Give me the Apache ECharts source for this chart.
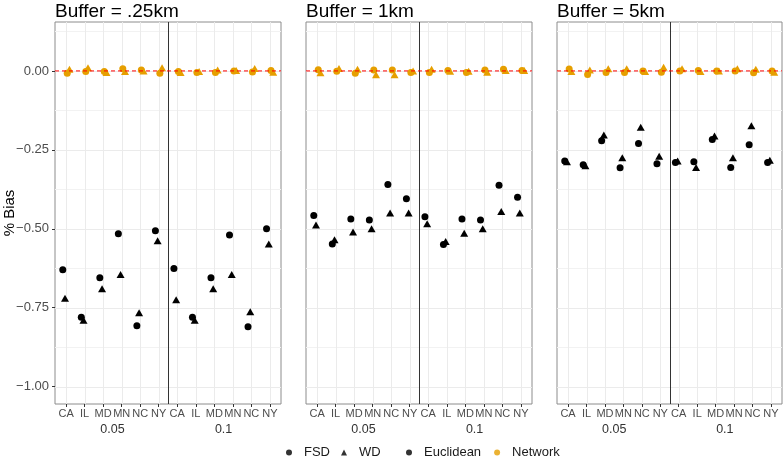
<!DOCTYPE html>
<html>
<head>
<meta charset="utf-8">
<script src="https://cdn.jsdelivr.net/npm/echarts@6/dist/echarts.min.js"></script>
<style>html,body{margin:0;padding:0;background:#fff}#c{width:784px;height:459px}</style>
</head>
<body>
<div id="c"></div>
<script>
const states = ['CA','IL','MD','MN','NC','NY'];
const thresholds = ['0.05','0.1'];
const xLabels = states.concat(states);
const buffers = ['Buffer = .25km','Buffer = 1km','Buffer = 5km'];
const yTicks = [-1, -0.75, -0.5, -0.25, 0];
const yMinor = [-0.875, -0.625, -0.375, -0.125, 0.125];

// values: 6 states at 0.05, then 6 states at 0.1
const euclidFSD_025 = [-0.63,-0.78,-0.655,-0.516,-0.807,-0.506, -0.626,-0.78,-0.655,-0.52,-0.81,-0.50];
const euclidWD_025  = [-0.72,-0.79,-0.69,-0.645,-0.766,-0.538, -0.725,-0.79,-0.69,-0.645,-0.763,-0.548];
const networkFSD_025 = [-0.007,-0.002,-0.002,0.007,0.003,-0.007, -0.002,-0.005,-0.005,0,-0.003,0.001];
const networkWD_025  = [0.005,0.01,-0.005,-0.002,0,0.01, -0.005,-0.002,0.003,0.001,0.008,-0.004];

const euclidFSD_1 = [-0.458,-0.548,-0.469,-0.472,-0.36,-0.405, -0.462,-0.55,-0.469,-0.472,-0.362,-0.40];
const euclidWD_1  = [-0.488,-0.535,-0.51,-0.50,-0.45,-0.45, -0.484,-0.54,-0.514,-0.50,-0.445,-0.45];
const networkFSD_1 = [0.004,-0.001,-0.007,0.003,0.003,-0.005, -0.005,0.001,-0.005,0.003,0.005,0.001];
const networkWD_1  = [-0.006,0.008,0.005,-0.012,-0.012,0, 0.005,-0.001,-0.001,-0.004,0.001,0.001];

const euclidFSD_5 = [-0.285,-0.297,-0.221,-0.307,-0.23,-0.294, -0.29,-0.288,-0.217,-0.306,-0.234,-0.29];
const euclidWD_5  = [-0.288,-0.30,-0.203,-0.275,-0.178,-0.27, -0.285,-0.306,-0.206,-0.275,-0.174,-0.283];
const networkFSD_5 = [0.006,-0.011,-0.005,-0.005,0,-0.004, 0,0.001,0,0,-0.006,0];
const networkWD_5  = [-0.002,0.003,0.007,0.007,-0.002,0.012, 0.007,-0.002,0,0.007,0.005,-0.004];

const panels = [
  [euclidFSD_025, euclidWD_025, networkFSD_025, networkWD_025],
  [euclidFSD_1, euclidWD_1, networkFSD_1, networkWD_1],
  [euclidFSD_5, euclidWD_5, networkFSD_5, networkWD_5]
];

const FONT = 'Liberation Sans, Arial, sans-serif';
const ORANGE = '#E69F00';
const X_MIN = 0.4, X_MAX = 12.6, Y_MIN = -1.055, Y_MAX = 0.155;
const gridLefts = [55, 306, 557];
const gridWidths = [226, 226, 225];
const tickPos = xLabels.map((_, i) => i + 1);
const groupPos = [3.5, 9.5];
const dividerPos = 6.5;
const dodge = [-0.18, -0.06, 0.06, 0.18];
const styles = [
  {name:'Euclidean FSD', symbol:'circle', size:7, color:'#000'},
  {name:'Euclidean WD', symbol:'triangle', size:[8,7], color:'#000'},
  {name:'Network FSD', symbol:'circle', size:7, color:ORANGE},
  {name:'Network WD', symbol:'triangle', size:[8,7], color:ORANGE}
];

// crisp rule lines drawn through the axes' scales
function rules(p, z, dir, values, stroke, width) {
  return {type: 'custom', xAxisIndex: 2 * p, yAxisIndex: p, z: z, silent: true, animation: false,
    clip: false, tooltip: {show: false},
    data: values.map(v => (dir === 'v' ? [v, 0] : [1, v])),
    encode: {x: 0, y: 1},
    renderItem: (params, api) => {
      if (dir === 'v') {
        const x = Math.round(api.coord([api.value(0), 0])[0]) + 0.5;
        const y1 = api.coord([X_MIN, Y_MAX])[1], y2 = api.coord([X_MIN, Y_MIN])[1];
        return {type: 'line', shape: {x1: x, y1: y1, x2: x, y2: y2}, style: {stroke: stroke, lineWidth: width}};
      }
      const y = Math.round(api.coord([1, api.value(1)])[1]) + 0.5;
      const x1 = api.coord([X_MIN, 0])[0], x2 = api.coord([X_MAX, 0])[0];
      return {type: 'line', shape: {x1: x1, y1: y, x2: x2, y2: y}, style: {stroke: stroke, lineWidth: width}};
    }};
}

const grid = [], xAxis = [], yAxis = [], series = [];
panels.forEach((vals, p) => {
  grid.push({left: gridLefts[p], top: 22, width: gridWidths[p], height: 382, show: true,
    borderColor: '#8c8c8c', borderWidth: 1, backgroundColor: 'transparent', containLabel: false});
  xAxis.push({gridIndex: p, type: 'value', min: X_MIN, max: X_MAX,
    axisLine: {show: false, onZero: false},
    axisTick: {show: true, customValues: tickPos, length: 3, lineStyle: {color: '#333', width: 1}},
    axisLabel: {customValues: tickPos, formatter: v => xLabels[Math.round(v) - 1], fontSize: 11,
      color: '#4D4D4D', margin: 4, fontFamily: FONT},
    splitLine: {show: false}});
  xAxis.push({gridIndex: p, type: 'value', min: X_MIN, max: X_MAX, position: 'bottom',
    axisLine: {show: false, onZero: false}, axisTick: {show: false},
    axisLabel: {customValues: groupPos, formatter: v => (v < dividerPos ? thresholds[0] : thresholds[1]),
      fontSize: 12.5, color: '#333', margin: 19, fontFamily: FONT},
    splitLine: {show: false}});
  yAxis.push({gridIndex: p, type: 'value', min: Y_MIN, max: Y_MAX,
    axisLine: {show: false, onZero: false},
    axisTick: {show: p === 0, customValues: yTicks, length: 3, lineStyle: {color: '#333', width: 1}},
    axisLabel: {show: p === 0, customValues: yTicks, formatter: v => v.toFixed(2).replace('-', '\u2212'),
      fontSize: 13, color: '#4D4D4D', margin: 6, fontFamily: FONT},
    splitLine: {show: false}});
  series.push(rules(p, 1, 'h', yMinor, '#F2F2F2', 1));
  series.push(rules(p, 1, 'h', yTicks, '#EBEBEB', 1));
  series.push(rules(p, 1, 'v', tickPos, '#EBEBEB', 1));
  series.push(rules(p, 2, 'v', [dividerPos], '#333333', 1));
  vals.forEach((arr, k) => {
    const s = styles[k];
    series.push({name: s.name, type: 'scatter', xAxisIndex: 2 * p, yAxisIndex: p, z: 4,
      symbol: s.symbol, symbolSize: s.size, itemStyle: {color: s.color, opacity: 1},
      animation: false,
      data: arr.map((v, i) => [i + 1 + dodge[k], v])});
  });
  // zero reference line
  series.push({type: 'line', xAxisIndex: 2 * p, yAxisIndex: p, z: 6, silent: true, symbol: 'none',
    animation: false, lineStyle: {color: '#FF0000', width: 1, type: [4, 3]},
    data: [[X_MIN, 0], [X_MAX, 0]]});
});

// legend-only series
[['FSD','circle','#000'],['WD','triangle','#000'],['Euclidean','circle','#000'],['Network','circle',ORANGE]]
  .forEach(([n, sym, c]) => series.push({name: n, type: 'scatter', xAxisIndex: 0, yAxisIndex: 0,
    data: [], symbol: sym, itemStyle: {color: c}}));

const legendText = {fontSize: 13, color: '#1a1a1a', fontFamily: FONT, padding: [0, 0, 0, 7]};
const option = {
  backgroundColor: '#fff',
  animation: false,
  title: buffers.map((t, i) => ({text: t, left: gridLefts[i], top: 2, padding: 0,
    textStyle: {fontSize: 19, fontWeight: 'normal', color: '#000', fontFamily: FONT}})),
  legend: [
    {left: 286, top: 446, padding: 0, selectedMode: false, itemWidth: 6, itemHeight: 6, itemGap: 11,
      data: [{name: 'FSD', icon: 'circle'}, {name: 'WD', icon: 'triangle'}], textStyle: legendText},
    {left: 406, top: 446, padding: 0, selectedMode: false, itemWidth: 6, itemHeight: 6, itemGap: 13,
      data: [{name: 'Euclidean', icon: 'circle'}, {name: 'Network', icon: 'circle'}], textStyle: legendText}
  ],
  graphic: [{type: 'text', x: 10, y: 213, rotation: Math.PI / 2,
    style: {text: '% Bias', fontSize: 15, fill: '#000', fontFamily: FONT, align: 'center', verticalAlign: 'middle'}}],
  grid, xAxis, yAxis, series
};
const chart = echarts.init(document.getElementById('c'), null, {renderer: 'canvas'});
chart.setOption(option);
</script>
</body>
</html>
